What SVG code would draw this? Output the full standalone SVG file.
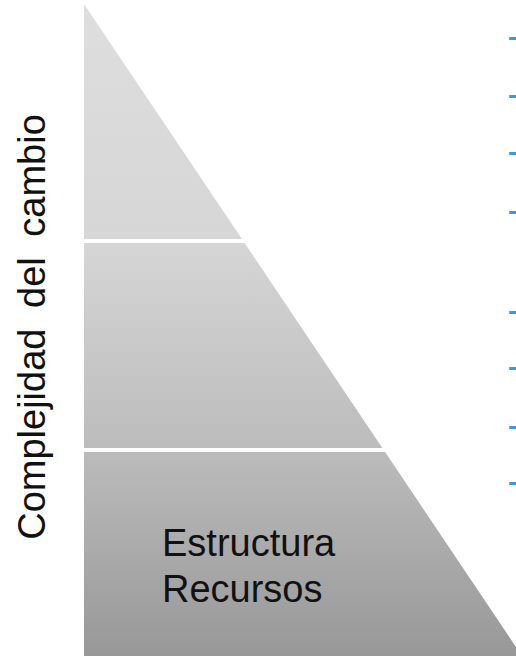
<svg xmlns="http://www.w3.org/2000/svg" width="516" height="656" viewBox="0 0 516 656">
<style>
.lbl{font-family:"Liberation Sans",Arial,sans-serif;fill:#111111}
.dash{font-family:"Liberation Sans",Arial,sans-serif;font-size:36px;fill:#3b9ad2}
</style>
<defs>
<linearGradient id="g" gradientUnits="userSpaceOnUse" x1="0" y1="4" x2="0" y2="656">
<stop offset="0" stop-color="#dedede"/>
<stop offset="0.36" stop-color="#d6d6d6"/>
<stop offset="0.68" stop-color="#bcbcbc"/>
<stop offset="1" stop-color="#989898"/>
</linearGradient>
</defs>
<rect width="516" height="656" fill="#ffffff"/>
<g id="top">
<polygon points="84,4 242,239 84,239" fill="url(#g)"/>
</g>
<g id="middle">
<polygon points="84,243 244.6,243 382.4,448 84,448" fill="url(#g)"/>
</g>
<g id="bottom">
<polygon points="84,452 385.1,452 522,656 84,656" fill="url(#g)"/>
<text class="lbl" x="162" y="556" font-size="38">Estructura</text>
<text class="lbl" x="162" y="602" font-size="38">Recursos</text>
</g>
<g id="axis-label">
<text class="lbl" font-size="38" word-spacing="10" text-anchor="middle" transform="translate(45,327) rotate(-90)">Complejidad del cambio</text>
</g>
<g id="dashes">
<text class="dash" x="507.5" y="48.2">-</text>
<text class="dash" x="507.5" y="105.6">-</text>
<text class="dash" x="507.5" y="163.2">-</text>
<text class="dash" x="507.5" y="221.6">-</text>
<text class="dash" x="507.5" y="321.6">-</text>
<text class="dash" x="507.5" y="378.2">-</text>
<text class="dash" x="507.5" y="436.6">-</text>
<text class="dash" x="507.5" y="493.2">-</text>
</g>
<g id="connectors"/>
</svg>
